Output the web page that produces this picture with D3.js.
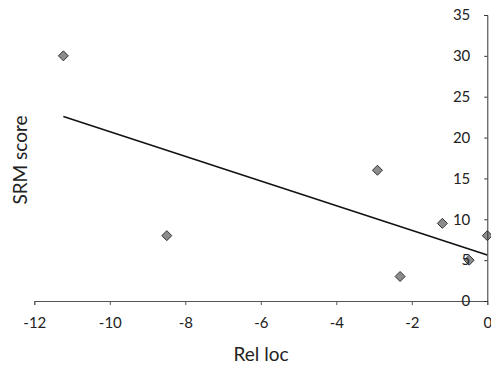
<!DOCTYPE html>
<html><head><meta charset="utf-8">
<script src="https://cdn.jsdelivr.net/npm/d3@7"></script>
<style>html,body{margin:0;padding:0;background:#fff;}svg{display:block;}</style>
</head><body>
<script>
const relLoc = [-11.23, -8.49, -2.91, -2.31, -1.19, -0.48, 0];
const srmScore = [30, 8, 16, 3, 9.5, 5, 8];
const xTicks = [-12, -10, -8, -6, -4, -2, 0];
const yTicks = [0, 5, 10, 15, 20, 25, 30, 35];
const xTitle = "Rel loc";
const yTitle = "SRM score";

const W = 491, H = 366;
const svg = d3.select("body").append("svg").attr("width", W).attr("height", H);
const x = d3.scaleLinear().domain([-12, 0]).range([34.3, 487.3]);
const y = d3.scaleLinear().domain([0, 35]).range([301, 15]);
const font = "Lato, Carlito, 'Noto Sans', sans-serif";

// x axis
const gx = svg.append("g").attr("transform", `translate(0,${y(0)})`)
  .call(d3.axisBottom(x).tickValues(xTicks).tickSize(4).tickPadding(12).tickFormat(d => String(d)));
gx.select(".domain").attr("stroke", "#555");
gx.selectAll(".tick line").attr("stroke", "#555");
gx.selectAll("text").attr("font-family", font).attr("font-size", 15).attr("fill", "#222");

// trend line (least squares)
const n = relLoc.length;
const mx = d3.mean(relLoc), my = d3.mean(srmScore);
let sxy = 0, sxx = 0;
for (let i = 0; i < n; i++) { sxy += (relLoc[i]-mx)*(srmScore[i]-my); sxx += (relLoc[i]-mx)**2; }
const slope = sxy / sxx, icpt = my - slope * mx;
const [x0, x1] = d3.extent(relLoc);
svg.append("line")
  .attr("x1", x(x0)).attr("y1", y(icpt + slope*x0))
  .attr("x2", x(x1)).attr("y2", y(icpt + slope*x1))
  .attr("stroke", "#111").attr("stroke-width", 1.5);

// points
svg.append("g").selectAll("path").data(relLoc.map((d,i)=>[d, srmScore[i]])).join("path")
  .attr("transform", d => `translate(${x(d[0])},${y(d[1])})`)
  .attr("d", "M0,-5L5,0L0,5L-5,0Z")
  .attr("fill", "#8c8c8c").attr("stroke", "#333").attr("stroke-width", 1);

// y axis (drawn on top so labels stay visible)
const gy = svg.append("g").attr("transform", `translate(${x(0)},0)`)
  .call(d3.axisLeft(y).tickValues(yTicks).tickSize(3).tickPadding(14));
gy.select(".domain").attr("stroke", "#333");
gy.selectAll(".tick line").attr("stroke", "#333");
gy.selectAll("text").attr("font-family", font).attr("font-size", 15).attr("fill", "#222");

// titles
svg.append("text").attr("x", 261).attr("y", 361).attr("text-anchor", "middle")
  .attr("font-family", font).attr("font-size", 19).attr("fill", "#222").text(xTitle);
svg.append("text").attr("transform", "translate(27,160) rotate(-90)").attr("text-anchor", "middle")
  .attr("font-family", font).attr("font-size", 19).attr("fill", "#222").text(yTitle);
</script>
</body></html>
